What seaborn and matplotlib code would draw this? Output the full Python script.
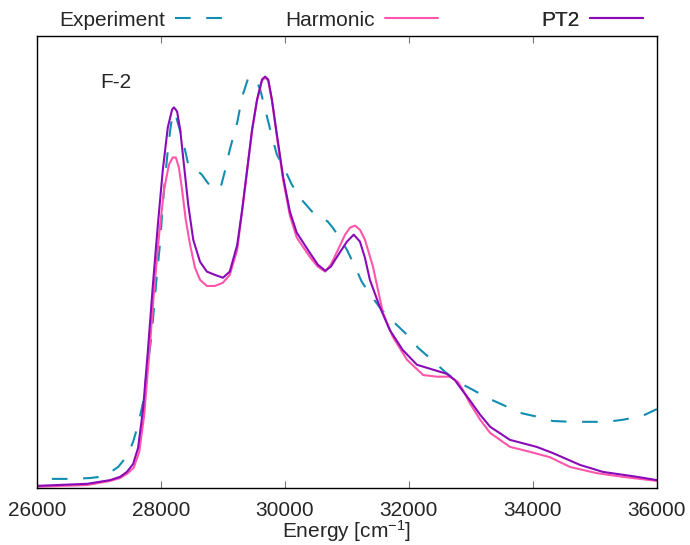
import matplotlib
matplotlib.use("Agg")
import matplotlib.pyplot as plt
import numpy as np
import pandas as pd
import seaborn as sns

# Absorption spectra of F-2: energy in cm^-1, intensity in arbitrary units
EXP_E = [26240, 26530, 26850, 27020, 27150, 27240, 27310, 27390, 27470, 27550,
         27630, 27710, 27790, 27850, 27920, 27980, 28050, 28100, 28150, 28190,
         28230, 28270, 28350, 28440, 28520, 28600, 28660, 28740, 28820, 28900,
         28970, 29030, 29110, 29230, 29310, 29400, 29470, 29530, 29600, 29690,
         29790, 29870, 30000, 30110, 30270, 30450, 30560, 30690, 30770, 30850,
         31000, 31130, 31240, 31400, 31560, 31770, 31970, 32150, 32370, 32580,
         32790, 33030, 33270, 33550, 33790, 34080, 34320, 34630, 34890, 35190,
         35450, 35760, 36000]
EXP_I = [0.021, 0.021, 0.023, 0.026, 0.033, 0.043, 0.050, 0.065, 0.082, 0.111,
         0.152, 0.206, 0.304, 0.372, 0.494, 0.587, 0.726, 0.806, 0.872, 0.911,
         0.913, 0.889, 0.848, 0.787, 0.772, 0.770, 0.762, 0.745, 0.730, 0.726,
         0.735, 0.770, 0.823, 0.889, 0.952, 0.994, 1.001, 0.994, 0.970, 0.916,
         0.855, 0.811, 0.774, 0.738, 0.701, 0.670, 0.660, 0.648, 0.633, 0.616,
         0.579, 0.538, 0.501, 0.465, 0.433, 0.401, 0.372, 0.340, 0.311, 0.282,
         0.257, 0.238, 0.218, 0.199, 0.182, 0.172, 0.162, 0.160, 0.160, 0.160,
         0.165, 0.174, 0.191]

HARM_E = [26000, 26810, 27180, 27340, 27450, 27560, 27650, 27730, 27810, 27890,
          27970, 28050, 28130, 28190, 28240, 28290, 28340, 28400, 28470, 28550,
          28630, 28740, 28870, 29000, 29110, 29230, 29310, 29390, 29470, 29550,
          29630, 29680, 29730, 29790, 29870, 29970, 30080, 30190, 30400, 30530,
          30650, 30740, 30840, 30970, 31050, 31130, 31210, 31290, 31420, 31580,
          31740, 31970, 32230, 32450, 32660, 32790, 32870, 32980, 33150, 33310,
          33630, 33950, 34270, 34600, 35030, 35450, 36000]
HARM_I = [0.002, 0.006, 0.016, 0.023, 0.033, 0.048, 0.087, 0.177, 0.323, 0.482,
          0.616, 0.726, 0.787, 0.804, 0.804, 0.779, 0.726, 0.652, 0.591, 0.535,
          0.506, 0.491, 0.491, 0.499, 0.518, 0.579, 0.674, 0.772, 0.870, 0.943,
          0.991, 0.999, 0.991, 0.943, 0.855, 0.750, 0.662, 0.609, 0.562, 0.538,
          0.526, 0.543, 0.574, 0.616, 0.633, 0.638, 0.628, 0.604, 0.538, 0.426,
          0.367, 0.311, 0.274, 0.270, 0.270, 0.257, 0.238, 0.206, 0.165, 0.133,
          0.099, 0.087, 0.074, 0.050, 0.035, 0.026, 0.016]

PT2_E = [26000, 26810, 27180, 27340, 27450, 27550, 27630, 27710, 27790, 27870,
         27950, 28030, 28110, 28180, 28210, 28260, 28310, 28370, 28440, 28520,
         28630, 28740, 28870, 29000, 29110, 29230, 29310, 29390, 29470, 29550,
         29630, 29680, 29730, 29790, 29870, 29970, 30080, 30190, 30400, 30530,
         30650, 30740, 30840, 31000, 31110, 31210, 31290, 31370, 31530, 31690,
         31900, 32130, 32390, 32610, 32740, 32820, 32980, 33150, 33310, 33630,
         34060, 34320, 34760, 35130, 35680, 36000]
PT2_I = [0.004, 0.009, 0.018, 0.026, 0.038, 0.057, 0.096, 0.189, 0.335, 0.494,
         0.640, 0.774, 0.877, 0.921, 0.926, 0.916, 0.872, 0.787, 0.689, 0.604,
         0.550, 0.526, 0.518, 0.511, 0.526, 0.591, 0.677, 0.774, 0.872, 0.945,
         0.994, 1.001, 0.994, 0.945, 0.860, 0.757, 0.672, 0.621, 0.572, 0.543,
         0.528, 0.538, 0.562, 0.599, 0.616, 0.599, 0.560, 0.506, 0.440, 0.384,
         0.335, 0.299, 0.287, 0.277, 0.262, 0.245, 0.213, 0.177, 0.148, 0.116,
         0.099, 0.084, 0.055, 0.038, 0.026, 0.018]

SERIES = ["Experiment", "Harmonic", "PT2"]
COLORS = ["#128db2", "#ff55aa", "#8a0ab8"]
X_TICKS = [26000, 28000, 30000, 32000, 34000, 36000]

sns.set_theme(style="white")
plt.rcParams.update({
    "font.family": ["Liberation Sans", "DejaVu Sans"],
    "mathtext.fontset": "custom",
    "mathtext.rm": "Liberation Sans",
    "mathtext.it": "Liberation Sans:italic",
    "mathtext.bf": "Liberation Sans:bold",
    "axes.edgecolor": "black",
    "axes.linewidth": 1.0,
    "lines.solid_joinstyle": "round",
    "lines.dash_joinstyle": "round",
})

FS = 15

fig, ax = plt.subplots(figsize=(6.9, 5.45), dpi=100)
fig.subplots_adjust(left=0.0536, right=0.952, bottom=0.1055, top=0.934)

data = [(EXP_E, EXP_I), (HARM_E, HARM_I), (PT2_E, PT2_I)]
handles = []
for name, (e, i), col in zip(SERIES, data, COLORS):
    df = pd.DataFrame({"energy": e, "intensity": i})
    sns.lineplot(data=df, x="energy", y="intensity", ax=ax, color=col,
                 linewidth=1.5, estimator=None, sort=True)
    line = ax.lines[-1]
    if name == "Experiment":
        line.set_linestyle((0, (7.5, 7.5)))
    handles.append(line)

ax.set_xlim(26000, 36000)
ax.set_ylim(0, 1.1)
ax.set_xticks(X_TICKS)
ax.set_xticklabels([str(t) for t in X_TICKS])
ax.set_yticks([])
ax.set_ylabel("")
ax.set_xlabel(r"Energy [cm$^{-1}$]", fontsize=FS, labelpad=-1.5)
ax.tick_params(axis="x", direction="in", top=True, bottom=True, length=5,
               width=0.8, color="#777777", labelsize=FS, pad=9.5)
for s in ax.spines.values():
    s.set_visible(True)
    s.set_color("black")

ax.text(0.1016, 0.898, "F-2", transform=ax.transAxes, fontsize=FS,
        ha="left", va="center")

# key entries above the frame, text to the left of each sample line
ends = [228 / 690, 438 / 690, 643 / 690]
for h, name, xe in zip(handles, SERIES, ends):
    leg = ax.legend([h], [name], loc="center right",
                    bbox_to_anchor=(xe, 1 - 20 / 545),
                    bbox_transform=fig.transFigure, frameon=False,
                    markerfirst=False, handlelength=2.55, handletextpad=0.48,
                    borderpad=0, borderaxespad=0, fontsize=FS)
    ax.add_artist(leg)

fig.savefig("out.png", dpi=100)
